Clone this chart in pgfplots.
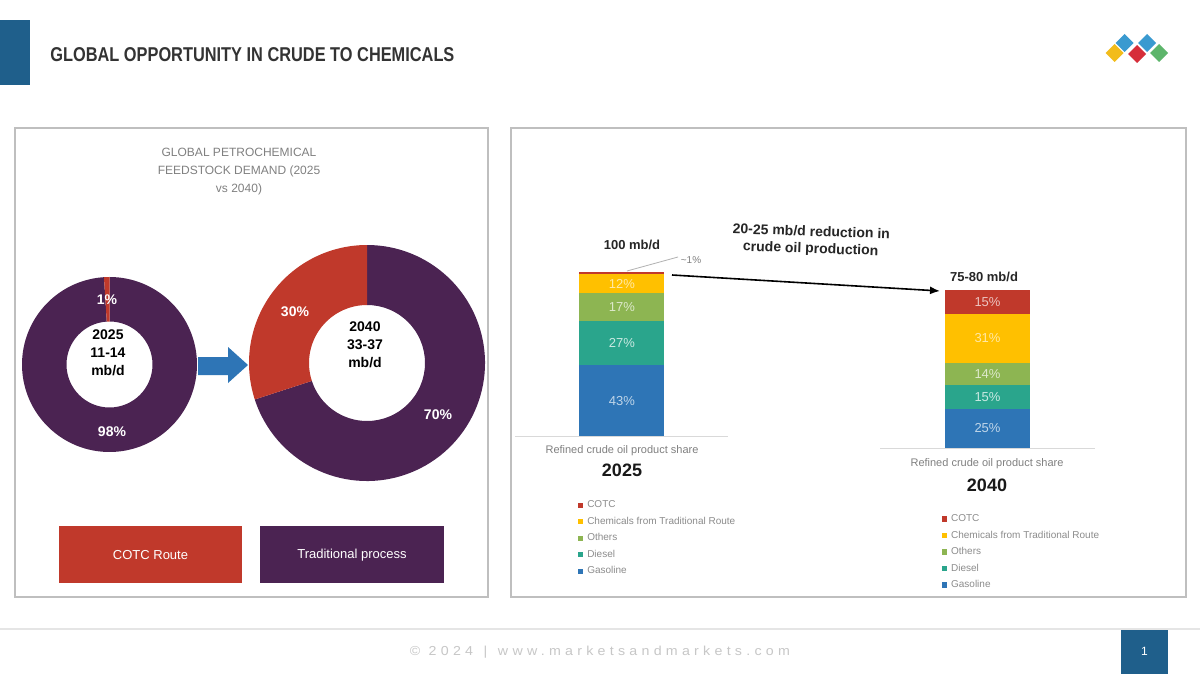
\documentclass[border=0pt]{standalone}
\usepackage{graphicx}
\usepackage{pgfplots}
\pgfplotsset{compat=1.18}
\usepackage{fontspec}
\setmainfont{Liberation Sans}
\newfontfamily\spacedfont[LetterSpace=30]{Liberation Sans}
\usetikzlibrary{calc,arrows.meta}

\definecolor{hdrblue}{HTML}{1F5F8B}
\definecolor{cotc}{HTML}{C0392B}
\definecolor{purp}{HTML}{4B2352}
\definecolor{gasol}{HTML}{2E75B6}
\definecolor{diesel}{HTML}{2AA58C}
\definecolor{others}{HTML}{8DB552}
\definecolor{chem}{HTML}{FFC000}
\definecolor{framec}{HTML}{BFBFBF}
\definecolor{txtgray}{HTML}{808080}
\definecolor{lgblue}{HTML}{3A9AD0}
\definecolor{lgyel}{HTML}{F2BC1B}
\definecolor{lgred}{HTML}{D62E3A}
\definecolor{lggreen}{HTML}{5DB56B}

\newcommand{\fs}[2]{\fontsize{#1}{#2}\selectfont}
\pgfplotsset{sqleg/.style={legend image code/.code={\fill[##1] (0pt,-1.3pt) rectangle (2.6pt,1.3pt);}}}

% donut data (share in %)
\def\cotcA{1}\def\tradA{98}
\def\cotcB{30}\def\tradB{70}

\begin{document}
\begin{tikzpicture}
\path[use as bounding box, fill=white] (0,0) rectangle (600pt,-337pt);

\begin{scope}[x=0.5pt,y=-0.5pt]
% header
\fill[hdrblue] (0,20) rectangle (30,85);
\node[anchor=west, inner sep=0pt, text=black!80] at (50,55)
  {\resizebox{202pt}{\height}{\bfseries\fs{10}{12}GLOBAL OPPORTUNITY IN CRUDE TO CHEMICALS}};
% logo
\foreach \c/\x/\y in {lgblue/1124.5/43, lgblue/1147/43, lgyel/1114.5/53, lgred/1137/54, lggreen/1159/53}
  \fill[\c] (\x,\y-9) -- (\x+9,\y) -- (\x,\y+9) -- (\x-9,\y) -- cycle;
% panels
\draw[framec, line width=0.6pt] (15,128) rectangle (488,597);
\draw[framec, line width=0.6pt] (511,128) rectangle (1186,597);
% donut title
\node[align=center, text=black!50, inner sep=0pt, font=\fs{6}{9}] at (239,172)
  {GLOBAL PETROCHEMICAL\\FEEDSTOCK DEMAND (2025\\vs 2040)};
% blue arrow
\fill[gasol] (198,357) -- (228,357) -- (228,347) -- (248,365) -- (228,383) -- (228,375) -- (198,375) -- cycle;
% legend boxes
\fill[cotc] (59,526) rectangle (242,583);
\node[text=white, font=\fs{6.5}{8}] at (150.5,555) {COTC Route};
\fill[purp] (260,526) rectangle (444,583);
\node[text=white, font=\fs{6.5}{8}] at (352,555) {Traditional process};
% footer
\draw[black!10, line width=0.6pt] (0,629) -- (1200,629);
\node[text=black!22, inner sep=0pt] at (600,652)
  {\resizebox{190pt}{\height}{\spacedfont\fs{6.5}{8}© 2024 \,|\, www.marketsandmarkets.com}};
\fill[hdrblue] (1121,630) rectangle (1168,674);
\node[text=white, font=\fs{6}{7}] at (1144.5,651) {1};
\end{scope}

% ---------- donut 2025 ----------
\pgfmathsetmacro\angA{90+360*\cotcA/(\cotcA+\tradA)}
\begin{axis}[at={(54.75pt,-182.25pt)}, anchor=center, scale only axis,
  width=87.5pt, height=87.5pt, xmin=-1, xmax=1, ymin=-1, ymax=1, hide axis, clip=false]
\fill[purp] ($(axis cs:0,0)+(\angA:43.75pt)$) arc[start angle=\angA, end angle=450, radius=43.75pt]
  -- ($(axis cs:0,0)+(450:21.5pt)$) arc[start angle=450, end angle=\angA, radius=21.5pt] -- cycle;
\fill[cotc] ($(axis cs:0,0)+(90:43.75pt)$) arc[start angle=90, end angle=\angA, radius=43.75pt]
  -- ($(axis cs:0,0)+(\angA:21.5pt)$) arc[start angle=\angA, end angle=90, radius=21.5pt] -- cycle;
\end{axis}

% ---------- donut 2040 ----------
\pgfmathsetmacro\angB{90+360*\cotcB/(\cotcB+\tradB)}
\begin{axis}[at={(183.5pt,-181.5pt)}, anchor=center, scale only axis,
  width=118pt, height=118pt, xmin=-1, xmax=1, ymin=-1, ymax=1, hide axis, clip=false]
\fill[purp] ($(axis cs:0,0)+(\angB:59pt)$) arc[start angle=\angB, end angle=450, radius=59pt]
  -- ($(axis cs:0,0)+(450:29pt)$) arc[start angle=450, end angle=\angB, radius=29pt] -- cycle;
\fill[cotc] ($(axis cs:0,0)+(90:59pt)$) arc[start angle=90, end angle=\angB, radius=59pt]
  -- ($(axis cs:0,0)+(\angB:29pt)$) arc[start angle=\angB, end angle=90, radius=29pt] -- cycle;
\end{axis}

% ---------- stacked bar 2025 ----------
\begin{axis}[at={(257.5pt,-218pt)}, anchor=south west, scale only axis,
  width=106.5pt, height=82pt, xmin=-1, xmax=1, ymin=0, ymax=100,
  ybar stacked, bar width=0.8,
  axis x line*=bottom, axis y line=none, x axis line style={draw=black!15, line width=0.5pt},
  xtick=\empty, ytick=\empty, clip=false,
  reverse legend, legend cell align=left,
  legend style={at={(0.296,-0.395)}, anchor=north west, draw=none, fill=none,
    inner sep=0pt, outer sep=0pt, font=\fs{5}{6}, text=black!45,
    nodes={inner sep=0pt, text height=3.6pt, text depth=1pt}, row sep=3.65pt, column sep=2pt}]
\addplot[fill=gasol, draw=none, sqleg] coordinates {(0,43)};
\addplot[fill=diesel, draw=none, sqleg] coordinates {(0,27)};
\addplot[fill=others, draw=none, sqleg] coordinates {(0,17)};
\addplot[fill=chem, draw=none, sqleg] coordinates {(0,12)};
\addplot[fill=cotc, draw=none, sqleg] coordinates {(0,1)};
\legend{Gasoline, Diesel, Others, Chemicals from Traditional Route, COTC}
\end{axis}

% ---------- stacked bar 2040 ----------
\begin{axis}[at={(440pt,-224pt)}, anchor=south west, scale only axis,
  width=107.5pt, height=79pt, xmin=-1, xmax=1, ymin=0, ymax=100,
  ybar stacked, bar width=0.79,
  axis x line*=bottom, axis y line=none, x axis line style={draw=black!15, line width=0.5pt},
  xtick=\empty, ytick=\empty, clip=false,
  reverse legend, legend cell align=left,
  legend style={at={(0.288,-0.42)}, anchor=north west, draw=none, fill=none,
    inner sep=0pt, outer sep=0pt, font=\fs{5}{6}, text=black!45,
    nodes={inner sep=0pt, text height=3.6pt, text depth=1pt}, row sep=3.65pt, column sep=2pt}]
\addplot[fill=gasol, draw=none, sqleg] coordinates {(0,25)};
\addplot[fill=diesel, draw=none, sqleg] coordinates {(0,15)};
\addplot[fill=others, draw=none, sqleg] coordinates {(0,14)};
\addplot[fill=chem, draw=none, sqleg] coordinates {(0,31)};
\addplot[fill=cotc, draw=none, sqleg] coordinates {(0,15)};
\legend{Gasoline, Diesel, Others, Chemicals from Traditional Route, COTC}
\end{axis}

\begin{scope}[x=0.5pt,y=-0.5pt]
% bar segment labels
\node[text=gasol!30!white, font=\fs{6.5}{8}] at (622,400.7) {43\%};
\node[text=diesel!25!white, font=\fs{6.5}{8}] at (622,343.3) {27\%};
\node[text=others!30!white, font=\fs{6.5}{8}] at (622,307.3) {17\%};
\node[text=chem!35!white, font=\fs{6.5}{8}] at (622,283.5) {12\%};
\node[text=gasol!30!white, font=\fs{6.5}{8}] at (987.5,428.3) {25\%};
\node[text=diesel!25!white, font=\fs{6.5}{8}] at (987.5,396.7) {15\%};
\node[text=others!30!white, font=\fs{6.5}{8}] at (987.5,373.7) {14\%};
\node[text=chem!35!white, font=\fs{6.5}{8}] at (987.5,338.2) {31\%};
\node[text=cotc!30!white, font=\fs{6.5}{8}] at (987.5,301.9) {15\%};
% donut texts
\node[text=white, font=\bfseries\fs{7}{9}] at (107,300) {1\%};
\node[align=center, font=\bfseries\fs{7}{9}] at (108,353) {2025\\11-14\\mb/d};
\node[text=white, font=\bfseries\fs{7}{9}] at (112,432) {98\%};
\node[text=white, font=\bfseries\fs{7}{9}] at (295,312) {30\%};
\node[align=center, font=\bfseries\fs{7}{9}] at (365,345) {2040\\33-37\\mb/d};
\node[text=white, font=\bfseries\fs{7}{9}] at (438,415) {70\%};
% bar annotations
\node[font=\bfseries\fs{6.5}{8}, text=black!85] at (632,245) {100 mb/d};
\draw[black!30, line width=0.4pt] (627,271) -- (678,257);
\node[font=\fs{5}{6}, text=txtgray] at (691,260) {\textasciitilde1\%};
\node[align=center, rotate=-2, font=\bfseries\fs{7}{8.5}, text=black!85] at (811,241)
  {20-25 mb/d reduction in\\crude oil production};
\draw[line width=0.8pt, -{Latex[length=5pt,width=4pt]}] (672,275) -- (940,291);
\node[font=\bfseries\fs{6.5}{8}, text=black!85] at (984,277) {75-80 mb/d};
\node[font=\fs{5.5}{7}, text=txtgray] at (622,451) {Refined crude oil product share};
\node[font=\bfseries\fs{9}{10}, text=black!90] at (622,470) {2025};
\node[font=\fs{5.5}{7}, text=txtgray] at (987,464) {Refined crude oil product share};
\node[font=\bfseries\fs{9}{10}, text=black!90] at (987,485) {2040};
\end{scope}
\end{tikzpicture}
\end{document}
